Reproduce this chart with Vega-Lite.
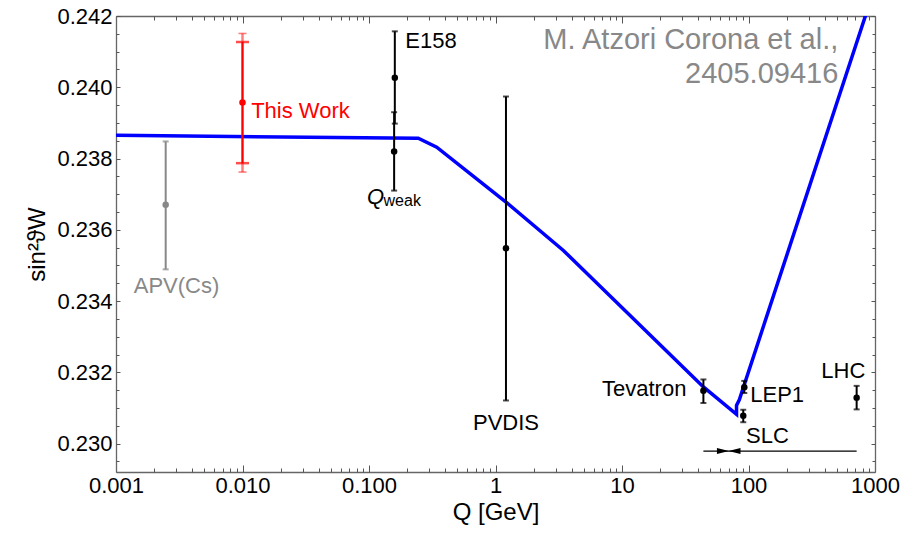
{
  "$schema": "https://vega.github.io/schema/vega-lite/v6.json",
  "width": 759,
  "height": 456,
  "autosize": {"type": "none"},
  "padding": {"left": 116, "top": 16, "right": 41, "bottom": 62},
  "background": "white",
  "config": {"view": {"stroke": null}, "font": "Liberation Sans"},
  "datasets": {
    "curve": [
      {"i": 1, "q": 0.001, "v": 0.23865},
      {"i": 2, "q": 0.245, "v": 0.23857},
      {"i": 3, "q": 0.343, "v": 0.23832},
      {"i": 4, "q": 1.21, "v": 0.23678},
      {"i": 5, "q": 3.44, "v": 0.23542},
      {"i": 6, "q": 44, "v": 0.23159},
      {"i": 7, "q": 80.4, "v": 0.23082},
      {"i": 8, "q": 80.4, "v": 0.23107},
      {"i": 9, "q": 84.6, "v": 0.23123},
      {"i": 10, "q": 1000, "v": 0.24282}
    ],
    "pts": [
      {"name": "APV(Cs)", "q": 0.00247, "v": 0.2367, "lo": 0.23489, "hi": 0.23848, "g": "apv"},
      {"name": "This Work", "q": 0.01, "v": 0.23957, "lo": 0.23787, "hi": 0.24127, "g": "this"},
      {"name": "E158", "q": 0.16, "v": 0.24027, "lo": 0.23898, "hi": 0.24157, "g": "exp"},
      {"name": "Qweak", "q": 0.158, "v": 0.2382, "lo": 0.2371, "hi": 0.2393, "g": "exp"},
      {"name": "PVDIS", "q": 1.21, "v": 0.23548, "lo": 0.23121, "hi": 0.23974, "g": "exp"},
      {"name": "Tevatron", "q": 44, "v": 0.23148, "lo": 0.23114, "hi": 0.2318, "g": "exp"},
      {"name": "LEP1", "q": 92.6, "v": 0.23158, "lo": 0.23142, "hi": 0.23176, "g": "exp"},
      {"name": "SLC", "q": 90.9, "v": 0.23078, "lo": 0.2306, "hi": 0.23095, "g": "exp"},
      {"name": "LHC", "q": 716, "v": 0.23129, "lo": 0.23096, "hi": 0.23162, "g": "exp"}
    ],
    "outer": [
      {"name": "This Work (total)", "q": 0.01, "lo": 0.23762, "hi": 0.24151, "g": "this"}
    ],
    "labels": [
      {"text": "E158", "q": 0.309, "v": 0.2413, "g": "exp", "kind": "main"},
      {"text": "APV(Cs)", "q": 0.00301, "v": 0.23441, "g": "apv", "kind": "main"},
      {"text": "This Work", "q": 0.02873, "v": 0.23932, "g": "this", "kind": "main"},
      {"text": "PVDIS", "q": 1.21, "v": 0.23057, "g": "exp", "kind": "main"},
      {"text": "Tevatron", "q": 14.98, "v": 0.23152, "g": "exp", "kind": "main"},
      {"text": "LEP1", "q": 168.6, "v": 0.23136, "g": "exp", "kind": "main"},
      {"text": "SLC", "q": 141.3, "v": 0.23021, "g": "exp", "kind": "main"},
      {"text": "LHC", "q": 561.6, "v": 0.23204, "g": "exp", "kind": "main"},
      {"text": "Q", "q": 0.1125, "v": 0.23692, "g": "exp", "kind": "q"},
      {"text": "weak", "q": 0.183, "v": 0.23681, "g": "exp", "kind": "sub"}
    ],
    "credit": [
      {"text": "M. Atzori Corona et al.,", "q": 512.6, "v": 0.24133},
      {"text": "2405.09416", "q": 512.6, "v": 0.24037}
    ],
    "arrow": [
      {"q1": 44, "q2": 716, "v": 0.22979}
    ],
    "heads": [
      {"q": 62.8, "v": 0.22979, "d": "r"},
      {"q": 77.5, "v": 0.22979, "d": "l"}
    ]
  },
  "layer": [
    {
      "data": {"name": "curve"},
      "mark": {"type": "line", "color": "#0000ff", "strokeWidth": 3.5, "clip": true},
      "encoding": {
        "x": {"field": "q", "type": "quantitative", "scale": {"type": "log", "domain": [0.001, 1000], "nice": false}, "axis": null},
        "y": {"field": "v", "type": "quantitative", "scale": {"domain": [0.229203, 0.242], "nice": false, "zero": false}, "axis": null},
        "order": {"field": "i", "type": "quantitative"}
      }
    },
    {
      "data": {"name": "outer"},
      "mark": {"type": "rule", "color": "#ff0000", "opacity": 0.5, "strokeWidth": 2.5},
      "encoding": {
        "x": {"field": "q", "type": "quantitative", "scale": {"type": "log", "domain": [0.001, 1000], "nice": false}, "axis": null},
        "y": {"field": "lo", "type": "quantitative", "scale": {"domain": [0.229203, 0.242], "nice": false, "zero": false}, "axis": null},
        "y2": {"field": "hi"}
      }
    },
    {
      "data": {"name": "outer"},
      "transform": [{"fold": ["lo", "hi"], "as": ["end", "val"]}],
      "mark": {"type": "tick", "orient": "horizontal", "color": "#ff0000", "opacity": 0.5, "size": 8, "thickness": 1.6},
      "encoding": {
        "x": {"field": "q", "type": "quantitative", "scale": {"type": "log", "domain": [0.001, 1000], "nice": false}, "axis": null},
        "y": {"field": "val", "type": "quantitative", "scale": {"domain": [0.229203, 0.242], "nice": false, "zero": false}, "axis": null}
      }
    },
    {
      "data": {"name": "pts"},
      "mark": {"type": "rule"},
      "encoding": {
        "x": {"field": "q", "type": "quantitative", "scale": {"type": "log", "domain": [0.001, 1000], "nice": false}, "axis": null},
        "y": {"field": "lo", "type": "quantitative", "scale": {"domain": [0.229203, 0.242], "nice": false, "zero": false}, "axis": null},
        "y2": {"field": "hi"},
        "color": {"field": "g", "type": "nominal", "scale": {"domain": ["exp", "apv", "this"], "range": ["#000000", "#888888", "#ff0000"]}, "legend": null},
        "strokeWidth": {"field": "g", "type": "nominal", "scale": {"domain": ["exp", "apv", "this"], "range": [2, 2, 2.8]}, "legend": null}
      }
    },
    {
      "data": {"name": "pts"},
      "transform": [{"fold": ["lo", "hi"], "as": ["end", "val"]}, {"filter": "datum.g != 'this'"}],
      "mark": {"type": "tick", "orient": "horizontal", "thickness": 2, "size": 6},
      "encoding": {
        "x": {"field": "q", "type": "quantitative", "scale": {"type": "log", "domain": [0.001, 1000], "nice": false}, "axis": null},
        "y": {"field": "val", "type": "quantitative", "scale": {"domain": [0.229203, 0.242], "nice": false, "zero": false}, "axis": null},
        "color": {"field": "g", "type": "nominal", "scale": {"domain": ["exp", "apv", "this"], "range": ["#000000", "#888888", "#ff0000"]}, "legend": null}
      }
    },
    {
      "data": {"name": "pts"},
      "transform": [{"fold": ["lo", "hi"], "as": ["end", "val"]}, {"filter": "datum.g == 'this'"}],
      "mark": {"type": "tick", "orient": "horizontal", "thickness": 2.5, "size": 13, "color": "#ff0000"},
      "encoding": {
        "x": {"field": "q", "type": "quantitative", "scale": {"type": "log", "domain": [0.001, 1000], "nice": false}, "axis": null},
        "y": {"field": "val", "type": "quantitative", "scale": {"domain": [0.229203, 0.242], "nice": false, "zero": false}, "axis": null}
      }
    },
    {
      "data": {"name": "pts"},
      "mark": {"type": "point", "filled": true, "opacity": 1, "size": 42},
      "encoding": {
        "x": {"field": "q", "type": "quantitative", "scale": {"type": "log", "domain": [0.001, 1000], "nice": false}, "axis": null},
        "y": {"field": "v", "type": "quantitative", "scale": {"domain": [0.229203, 0.242], "nice": false, "zero": false}, "axis": null},
        "color": {"field": "g", "type": "nominal", "scale": {"domain": ["exp", "apv", "this"], "range": ["#000000", "#888888", "#ff0000"]}, "legend": null}
      }
    },
    {
      "data": {"name": "arrow"},
      "mark": {"type": "rule", "color": "#000000", "strokeWidth": 1.3},
      "encoding": {
        "x": {"field": "q1", "type": "quantitative", "scale": {"type": "log", "domain": [0.001, 1000], "nice": false}, "axis": null},
        "x2": {"field": "q2"},
        "y": {"field": "v", "type": "quantitative", "scale": {"domain": [0.229203, 0.242], "nice": false, "zero": false}, "axis": null}
      }
    },
    {
      "data": {"name": "heads"},
      "transform": [{"filter": "datum.d == 'r'"}],
      "mark": {"type": "point", "shape": "M-1,-0.5L1,0L-1,0.5Z", "filled": true, "color": "#000000", "opacity": 1, "size": 144},
      "encoding": {
        "x": {"field": "q", "type": "quantitative", "scale": {"type": "log", "domain": [0.001, 1000], "nice": false}, "axis": null},
        "y": {"field": "v", "type": "quantitative", "scale": {"domain": [0.229203, 0.242], "nice": false, "zero": false}, "axis": null}
      }
    },
    {
      "data": {"name": "heads"},
      "transform": [{"filter": "datum.d == 'l'"}],
      "mark": {"type": "point", "shape": "M1,-0.5L-1,0L1,0.5Z", "filled": true, "color": "#000000", "opacity": 1, "size": 144},
      "encoding": {
        "x": {"field": "q", "type": "quantitative", "scale": {"type": "log", "domain": [0.001, 1000], "nice": false}, "axis": null},
        "y": {"field": "v", "type": "quantitative", "scale": {"domain": [0.229203, 0.242], "nice": false, "zero": false}, "axis": null}
      }
    },
    {
      "data": {"name": "labels"},
      "transform": [{"filter": "datum.kind == 'main'"}],
      "mark": {"type": "text", "fontSize": 22, "align": "center", "baseline": "middle"},
      "encoding": {
        "x": {"field": "q", "type": "quantitative", "scale": {"type": "log", "domain": [0.001, 1000], "nice": false}, "axis": null},
        "y": {"field": "v", "type": "quantitative", "scale": {"domain": [0.229203, 0.242], "nice": false, "zero": false}, "axis": null},
        "text": {"field": "text"},
        "color": {"field": "g", "type": "nominal", "scale": {"domain": ["exp", "apv", "this"], "range": ["#000000", "#888888", "#ff0000"]}, "legend": null}
      }
    },
    {
      "data": {"name": "labels"},
      "transform": [{"filter": "datum.kind == 'q'"}],
      "mark": {"type": "text", "fontSize": 22, "fontStyle": "italic", "align": "center", "baseline": "middle", "color": "#000000"},
      "encoding": {
        "x": {"field": "q", "type": "quantitative", "scale": {"type": "log", "domain": [0.001, 1000], "nice": false}, "axis": null},
        "y": {"field": "v", "type": "quantitative", "scale": {"domain": [0.229203, 0.242], "nice": false, "zero": false}, "axis": null},
        "text": {"field": "text"}
      }
    },
    {
      "data": {"name": "labels"},
      "transform": [{"filter": "datum.kind == 'sub'"}],
      "mark": {"type": "text", "fontSize": 16, "align": "center", "baseline": "middle", "color": "#000000"},
      "encoding": {
        "x": {"field": "q", "type": "quantitative", "scale": {"type": "log", "domain": [0.001, 1000], "nice": false}, "axis": null},
        "y": {"field": "v", "type": "quantitative", "scale": {"domain": [0.229203, 0.242], "nice": false, "zero": false}, "axis": null},
        "text": {"field": "text"}
      }
    },
    {
      "data": {"name": "credit"},
      "mark": {"type": "text", "fontSize": 29, "align": "right", "baseline": "middle", "color": "#888888"},
      "encoding": {
        "x": {"field": "q", "type": "quantitative", "scale": {"type": "log", "domain": [0.001, 1000], "nice": false}, "axis": null},
        "y": {"field": "v", "type": "quantitative", "scale": {"domain": [0.229203, 0.242], "nice": false, "zero": false}, "axis": null},
        "text": {"field": "text"}
      }
    },
    {
      "data": {"name": "curve"},
      "mark": {"type": "point", "opacity": 0},
      "encoding": {
        "x": {"field": "q", "type": "quantitative", "scale": {"type": "log", "domain": [0.001, 1000], "nice": false},
          "axis": {"orient": "bottom", "values": [0.001, 0.01, 0.1, 1, 10, 100, 1000],
            "labelExpr": "datum.value < 0.5 ? format(datum.value, '.3f') : format(datum.value, 'd')",
            "ticks": false, "tickSize": 0, "labelPadding": 3, "labelFontSize": 22, "labelColor": "#000000", "labelFlush": false, "labelOverlap": false, "labelBound": false,
            "title": "Q [GeV]", "titleFontSize": 24, "titleFontWeight": "normal", "titleColor": "#000000", "titlePadding": 4,
            "domainColor": "#666666", "domainWidth": 1.3, "grid": false}},
        "y": {"field": "v", "type": "quantitative", "scale": {"domain": [0.229203, 0.242], "nice": false, "zero": false},
          "axis": {"orient": "left", "values": [0.23, 0.232, 0.234, 0.236, 0.238, 0.24, 0.242], "format": ".3f",
            "ticks": false, "tickSize": 0, "labelPadding": 4, "labelFontSize": 22, "labelColor": "#000000", "labelFlush": false, "labelOverlap": false, "labelBound": false,
            "title": "sin²ϑW", "titleFontSize": 24, "titleFontWeight": "normal", "titleColor": "#000000", "titlePadding": 7,
            "domainColor": "#666666", "domainWidth": 1.3, "grid": false}}
      }
    },
    {
      "data": {"name": "curve"},
      "mark": {"type": "point", "opacity": 0},
      "encoding": {
        "x": {"field": "q", "type": "quantitative", "scale": {"type": "log", "domain": [0.001, 1000], "nice": false},
          "axis": {"orient": "bottom", "offset": -7, "values": [0.001, 0.01, 0.1, 1, 10, 100, 1000],
            "labels": false, "tickSize": 7, "title": null, "domain": false, "tickColor": "#555555", "tickWidth": 1, "grid": false}},
        "y": {"field": "v", "type": "quantitative", "scale": {"domain": [0.229203, 0.242], "nice": false, "zero": false},
          "axis": {"orient": "left", "offset": -4, "values": [0.23, 0.232, 0.234, 0.236, 0.238, 0.24, 0.242],
            "labels": false, "tickSize": 4, "title": null, "domain": false, "tickColor": "#555555", "tickWidth": 1, "grid": false}}
      }
    },
    {
      "data": {"name": "curve"},
      "mark": {"type": "point", "opacity": 0},
      "encoding": {
        "x": {"field": "q", "type": "quantitative", "scale": {"type": "log", "domain": [0.001, 1000], "nice": false},
          "axis": {"orient": "bottom", "offset": -4, "values": [0.002, 0.003, 0.004, 0.005, 0.006, 0.007, 0.008, 0.009, 0.02, 0.03, 0.04, 0.05, 0.06, 0.07, 0.08, 0.09, 0.2, 0.3, 0.4, 0.5, 0.6, 0.7, 0.8, 0.9, 2, 3, 4, 5, 6, 7, 8, 9, 20, 30, 40, 50, 60, 70, 80, 90, 200, 300, 400, 500, 600, 700, 800, 900],
            "labels": false, "tickSize": 4, "title": null, "domain": false, "tickColor": "#555555", "tickWidth": 1, "grid": false}},
        "y": {"field": "v", "type": "quantitative", "scale": {"domain": [0.229203, 0.242], "nice": false, "zero": false},
          "axis": {"orient": "left", "offset": -3, "values": [0.2295, 0.2305, 0.231, 0.2315, 0.2325, 0.233, 0.2335, 0.2345, 0.235, 0.2355, 0.2365, 0.237, 0.2375, 0.2385, 0.239, 0.2395, 0.2405, 0.241, 0.2415],
            "labels": false, "tickSize": 3, "title": null, "domain": false, "tickColor": "#555555", "tickWidth": 1, "grid": false}}
      }
    },
    {
      "data": {"name": "curve"},
      "mark": {"type": "point", "opacity": 0},
      "encoding": {
        "x": {"field": "q", "type": "quantitative", "scale": {"type": "log", "domain": [0.001, 1000], "nice": false},
          "axis": {"orient": "top", "ticks": false, "labels": false, "title": null, "domainColor": "#666666", "domainWidth": 1.3, "grid": false}},
        "y": {"field": "v", "type": "quantitative", "scale": {"domain": [0.229203, 0.242], "nice": false, "zero": false},
          "axis": {"orient": "right", "ticks": false, "labels": false, "title": null, "domainColor": "#666666", "domainWidth": 1.3, "grid": false}}
      }
    },
    {
      "data": {"name": "curve"},
      "mark": {"type": "point", "opacity": 0},
      "encoding": {
        "x": {"field": "q", "type": "quantitative", "scale": {"type": "log", "domain": [0.001, 1000], "nice": false},
          "axis": {"orient": "top", "offset": -7, "values": [0.001, 0.01, 0.1, 1, 10, 100, 1000],
            "labels": false, "tickSize": 7, "title": null, "domain": false, "tickColor": "#555555", "tickWidth": 1, "grid": false}},
        "y": {"field": "v", "type": "quantitative", "scale": {"domain": [0.229203, 0.242], "nice": false, "zero": false},
          "axis": {"orient": "right", "offset": -4, "values": [0.23, 0.232, 0.234, 0.236, 0.238, 0.24, 0.242],
            "labels": false, "tickSize": 4, "title": null, "domain": false, "tickColor": "#555555", "tickWidth": 1, "grid": false}}
      }
    },
    {
      "data": {"name": "curve"},
      "mark": {"type": "point", "opacity": 0},
      "encoding": {
        "x": {"field": "q", "type": "quantitative", "scale": {"type": "log", "domain": [0.001, 1000], "nice": false},
          "axis": {"orient": "top", "offset": -4, "values": [0.002, 0.003, 0.004, 0.005, 0.006, 0.007, 0.008, 0.009, 0.02, 0.03, 0.04, 0.05, 0.06, 0.07, 0.08, 0.09, 0.2, 0.3, 0.4, 0.5, 0.6, 0.7, 0.8, 0.9, 2, 3, 4, 5, 6, 7, 8, 9, 20, 30, 40, 50, 60, 70, 80, 90, 200, 300, 400, 500, 600, 700, 800, 900],
            "labels": false, "tickSize": 4, "title": null, "domain": false, "tickColor": "#555555", "tickWidth": 1, "grid": false}},
        "y": {"field": "v", "type": "quantitative", "scale": {"domain": [0.229203, 0.242], "nice": false, "zero": false},
          "axis": {"orient": "right", "offset": -3, "values": [0.2295, 0.2305, 0.231, 0.2315, 0.2325, 0.233, 0.2335, 0.2345, 0.235, 0.2355, 0.2365, 0.237, 0.2375, 0.2385, 0.239, 0.2395, 0.2405, 0.241, 0.2415],
            "labels": false, "tickSize": 3, "title": null, "domain": false, "tickColor": "#555555", "tickWidth": 1, "grid": false}}
      }
    }
  ],
  "resolve": {"axis": {"x": "independent", "y": "independent"}}
}
